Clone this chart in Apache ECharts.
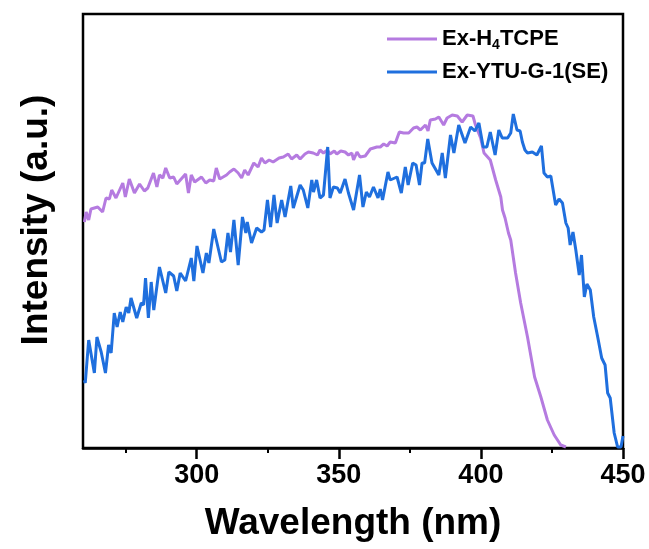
<!DOCTYPE html>
<html>
<head>
<meta charset="utf-8">
<script src="https://cdn.jsdelivr.net/npm/echarts@6/dist/echarts.min.js"></script>
<style>html,body{margin:0;padding:0;background:#fff}#c{width:649px;height:549px}</style>
</head>
<body>
<div id="c"></div>
<script>
var seriesNames = ['Ex-H4TCPE', 'Ex-YTU-G-1(SE)'];
var xTicks = [300, 350, 400, 450];
var xMinorTicks = [275, 325, 375, 425];

var purpleWl = [260.5,261.1,262.0,262.8,265.2,266.9,268.1,269.3,270.1,271.6,274.0,274.9,276.3,278.1,279.9,281.6,282.8,284.8,286.0,286.9,288.1,289.1,290.5,291.9,293.0,296.1,297.1,298.1,299.3,301.7,303.2,304.6,306.0,306.9,308.1,310.5,311.6,313.1,314.6,315.8,316.9,318.1,320.1,321.6,322.8,324.0,325.5,326.9,329.0,330.5,332.2,333.4,335.2,336.4,338.1,339.3,341.0,342.5,343.4,344.6,346.0,346.9,348.4,349.3,350.7,352.2,353.4,354.6,355.2,356.4,357.5,359.3,361.1,363.4,364.6,365.8,367.0,368.1,369.9,371.3,372.8,374.6,376.3,377.5,378.7,380.5,381.4,382.2,384.0,385.2,386.9,388.1,389.9,391.7,393.4,395.2,397.2,398.1,399.9,401.1,403.3,405.2,407.0,407.6,408.5,409.7,410.5,412.2,414.0,416.4,418.9,421.1,423.4,425.8,428.1,429.9];
var purpleInt = [226,236,228,239,241,236,250,249,258,250,265,251,269,255,264,257,260,275,261,273,270,280,270,271,264,274,255,273,266,271,265,268,267,280,269,273,276,279,275,270,278,273,285,281,290,285,288,286,290,291,294,289,293,289,294,296,295,293,298,295,298,294,297,294,297,296,293,295,288,296,291,292,299,301,301,304,302,306,305,316,315,315,320,321,318,323,317,328,329,331,323,330,333,332,326,333,332,323,310,295,288,268,251,238,230,215,208,175,145,111,71,51,28,13,3,1];

var blueWl = [260.5,260.8,262.0,264.0,264.9,266.4,267.9,269.0,269.9,271.0,272.0,273.1,274.0,275.2,276.1,276.9,278.9,280.5,281.3,282.0,283.0,284.0,284.9,286.9,289.1,290.2,291.9,293.0,294.2,296.1,298.1,299.0,300.1,302.2,303.4,304.3,306.0,308.7,309.9,311.0,311.9,313.1,314.6,316.1,317.3,317.8,319.3,321.1,322.8,323.7,324.9,326.0,327.2,328.3,329.9,331.1,333.1,334.0,336.4,337.5,339.1,340.5,341.1,342.2,343.4,344.6,345.2,346.1,346.9,348.1,349.5,350.5,352.2,353.4,355.2,357.3,358.5,359.7,360.8,362.2,363.8,364.6,365.4,367.3,368.1,370.5,372.0,373.4,374.4,376.0,377.2,378.4,379.3,380.2,381.3,382.8,385.2,386.4,387.5,389.3,390.5,392.2,394.4,396.4,397.9,399.3,400.8,402.1,403.3,405.0,406.3,407.5,409.4,410.5,411.4,412.7,413.8,414.6,415.5,416.4,418.1,419.7,421.3,422.2,423.4,424.6,426.3,427.5,428.7,429.9,430.7,431.4,432.4,433.4,434.6,435.4,436.4,437.3,438.5,439.7,441.1,442.5,443.7,444.6,445.5,446.9,448.1,449.3,450.0];
var blueInt = [68,65,108,75,111,96,75,103,95,135,121,136,126,141,135,150,130,145,143,170,130,166,138,181,155,176,172,157,175,167,190,167,202,175,195,185,219,186,188,215,196,228,183,231,215,226,205,220,216,218,248,221,253,225,248,231,262,240,263,258,240,268,256,268,250,253,251,301,250,261,260,255,269,255,238,273,241,256,251,261,250,259,248,276,268,271,255,281,263,285,283,263,285,285,309,285,273,295,270,313,295,323,305,321,317,325,301,301,316,293,318,310,310,315,334,318,317,306,298,295,296,293,302,275,271,272,243,249,245,225,220,203,216,198,173,193,151,164,158,131,111,90,83,55,50,15,1,1,12];

function pairs(xs, ys) { return xs.map(function (x, i) { return [x, ys[i]]; }); }

var FONT = 'Arial, "Liberation Sans", sans-serif';
var chart = echarts.init(document.getElementById('c'), null, { renderer: 'canvas' });
chart.setOption({
  animation: false,
  backgroundColor: '#fff',
  grid: { left: 83, right: 26, top: 14, bottom: 101, show: true, borderColor: '#000', borderWidth: 2.5, backgroundColor: 'transparent' },
  legend: {
    orient: 'vertical', left: 382, top: 21, itemGap: 9,
    itemWidth: 50, itemHeight: 3, icon: 'rect',
    data: seriesNames,
    formatter: function (n) { return n === 'Ex-H4TCPE' ? '{m|Ex-H}{s|4}{m|TCPE}' : '{m|' + n + '}'; },
    textStyle: {
      fontFamily: FONT, fontSize: 22, fontWeight: 'bold', color: '#000',
      rich: {
        m: { fontFamily: FONT, fontSize: 22, fontWeight: 'bold', color: '#000', lineHeight: 26 },
        s: { fontFamily: FONT, fontSize: 14, fontWeight: 'bold', color: '#000', lineHeight: 26, padding: [12, 0, 0, 0] }
      }
    }
  },
  xAxis: [{
    type: 'value', min: 260, max: 450,
    name: 'Wavelength (nm)', nameLocation: 'middle', nameGap: 57,
    nameTextStyle: { fontFamily: FONT, fontSize: 37, fontWeight: 'bold', color: '#000' },
    axisLine: { show: true, onZero: false, lineStyle: { color: '#000', width: 2.5 } },
    axisTick: { show: true, inside: false, length: 5, customValues: xMinorTicks, lineStyle: { color: '#000', width: 2 } },
    axisLabel: { show: true, margin: 14, customValues: xTicks, fontFamily: FONT, fontSize: 27, fontWeight: 'bold', color: '#000' },
    splitLine: { show: false }
  }, {
    type: 'value', min: 260, max: 450, position: 'bottom',
    axisLine: { show: false },
    axisTick: { show: true, inside: false, length: 11, customValues: xTicks, lineStyle: { color: '#000', width: 2.5 } },
    axisLabel: { show: false },
    splitLine: { show: false }
  }],
  yAxis: {
    type: 'value', min: 0, max: 434,
    name: 'Intensity (a.u.)', nameLocation: 'middle', nameGap: 28,
    nameTextStyle: { fontFamily: FONT, fontSize: 37, fontWeight: 'bold', color: '#000', padding: [0, 0, 0, 22] },
    axisLine: { show: false }, axisTick: { show: false }, axisLabel: { show: false }, splitLine: { show: false }
  },
  series: [{
    name: seriesNames[0], type: 'line', showSymbol: false, symbol: 'none', xAxisIndex: 0,
    data: pairs(purpleWl, purpleInt),
    lineStyle: { color: '#B57BE0', width: 3 }, itemStyle: { color: '#B57BE0' }
  }, {
    name: seriesNames[1], type: 'line', showSymbol: false, symbol: 'none', xAxisIndex: 0,
    data: pairs(blueWl, blueInt),
    lineStyle: { color: '#1F6FDE', width: 3 }, itemStyle: { color: '#1F6FDE' }
  }]
});
</script>
</body>
</html>
